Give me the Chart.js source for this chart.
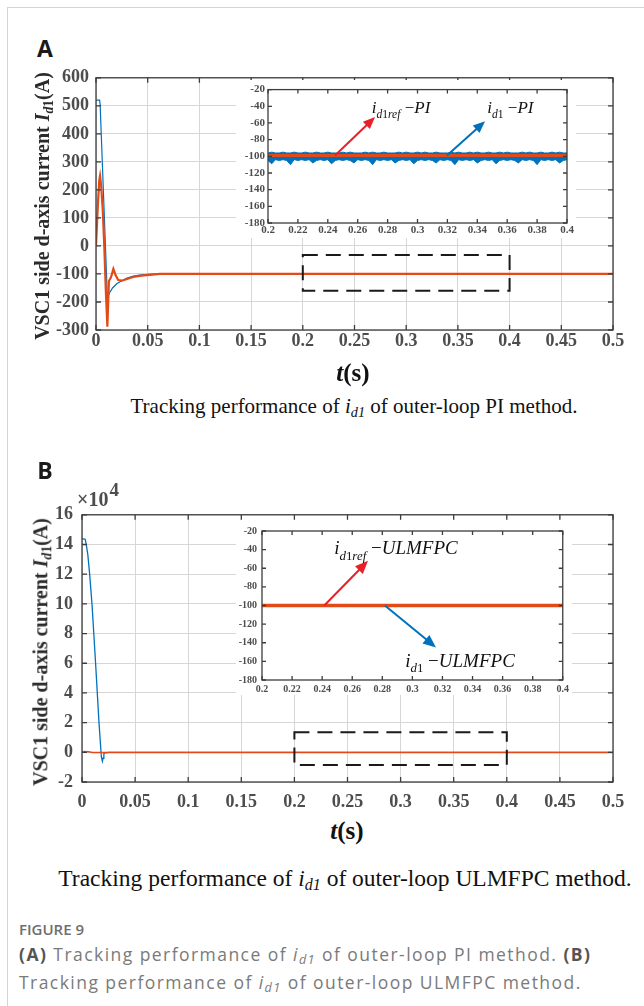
<!DOCTYPE html>
<html>
<head>
<meta charset="utf-8">
<script src="https://cdn.jsdelivr.net/npm/chart.js@4.4.0/dist/chart.umd.min.js"></script>
<style>
  html, body { margin: 0; padding: 0; background: #fff; }
  #page { position: relative; width: 644px; height: 1006px; overflow: hidden; background: #fff; }
  canvas { position: absolute; }
  .t { position: absolute; white-space: nowrap; line-height: 1; transform: translate(-50%, -50%); }
  .serif { font-family: 'Liberation Serif', 'Times New Roman', serif; }
  .panel { font-family: 'Open Sans', sans-serif; font-weight: 700; font-size: 23px; color: #1a1a1a; }
  .ytitle { font-weight: bold; font-size: 20px; color: #2b2b2b; transform: translate(-50%, -50%) rotate(-90deg); }
  .ytitle sub, .cap sub { font-size: 0.68em; vertical-align: -0.28em; }
  .xtitle { font-weight: bold; font-size: 25px; color: #111; }
  .cap { font-size: 21px; color: #111; }
  .fig { position: absolute; left: 19px; font-family: 'Open Sans', sans-serif; color: #7a7a7a; white-space: nowrap; }
  .fig b { color: #555; }
  .fig sub { font-size: 0.72em; vertical-align: -0.25em; }
</style>
</head>
<body>
<div id="page">
  <div style="position:absolute;left:7px;top:7px;width:637px;height:1px;background:#d4d4d4"></div>
  <div style="position:absolute;left:7px;top:7px;width:1px;height:999px;background:#d4d4d4"></div>

  <div class="t panel" style="left:45px;top:48px">A</div>
  <canvas id="mainA" width="640" height="300" style="left:0;top:60px"></canvas>
  <canvas id="zoomA" width="340" height="158" style="left:236px;top:80px"></canvas>
  <div class="t serif ytitle" style="left:44px;top:206px">VSC1 side d-axis current <i>I</i><sub><i>d</i>1</sub>(A)</div>
  <div class="t serif xtitle" style="left:353px;top:372px"><i>t</i>(s)</div>
  <div class="t serif cap" style="left:354px;top:408px">Tracking performance of <i>i<sub>d1</sub></i> of outer-loop PI method.</div>

  <div class="t panel" style="left:45px;top:470px">B</div>
  <canvas id="mainB" width="640" height="320" style="left:0;top:495px"></canvas>
  <canvas id="zoomB" width="336" height="175" style="left:236px;top:520px"></canvas>
  <div class="serif" style="position:absolute;left:77px;top:489px;font-size:20px;font-weight:bold;color:#4d4d4d;line-height:20px;white-space:nowrap">×10<span style="position:relative;top:-10px;font-size:19px;margin-left:1px">4</span></div>
  <div class="t serif ytitle" style="left:42px;top:652px">VSC1 side d-axis current <i>I</i><sub><i>d</i>1</sub>(A)</div>
  <div class="t serif xtitle" style="left:347px;top:830px"><i>t</i>(s)</div>
  <div class="t serif cap" style="left:345px;top:880px;font-size:23.5px">Tracking performance of <i>i<sub>d1</sub></i> of outer-loop ULMFPC method.</div>

  <div class="fig" style="top:919px;font-size:15px;font-weight:600;color:#6e6e6e">FIGURE 9</div>
  <div class="fig" style="top:943px;font-size:17.5px;line-height:22px;letter-spacing:1.45px">
    <b>(A)</b> Tracking performance of <i>i<sub>d1</sub></i> of outer-loop PI method. <b>(B)</b><br>
    Tracking performance of <i>i<sub>d1</sub></i> of outer-loop ULMFPC method.
  </div>
</div>

<script>
// ---- panel A: outer-loop PI, full run ----
const piTime = [0, 0.0035, 0.004, 0.011, 0.013, 0.016, 0.02, 0.025, 0.03, 0.036, 0.042, 0.05, 0.06, 0.5];
const piCurrent = [520, 520, 505, -185, -168, -150, -135, -124, -115, -108, -104, -101, -100, -100];
const piRefTime = [0, 0.002, 0.0032, 0.0039, 0.005, 0.0065, 0.008, 0.0095, 0.011, 0.0125, 0.0145, 0.0168, 0.019, 0.0215, 0.025, 0.03, 0.036, 0.044, 0.052, 0.062, 0.5];
const piRefCurrent = [0, 160, 235, 250, 215, 130, 0, -160, -288, -125, -112, -82, -105, -122, -124, -118, -111, -106, -103, -100, -100];

// ---- panel A inset: 0.2 .. 0.4 s ----
const piZoomTime = [0.2, 0.2025, 0.205, 0.2075, 0.21, 0.2125, 0.215, 0.2175, 0.22, 0.2225,
  0.225, 0.2275, 0.23, 0.2325, 0.235, 0.2375, 0.24, 0.2425, 0.245, 0.2475,
  0.25, 0.2525, 0.255, 0.2575, 0.26, 0.2625, 0.265, 0.2675, 0.27, 0.2725,
  0.275, 0.2775, 0.28, 0.2825, 0.285, 0.2875, 0.29, 0.2925, 0.295, 0.2975,
  0.3, 0.3025, 0.305, 0.3075, 0.31, 0.3125, 0.315, 0.3175, 0.32, 0.3225,
  0.325, 0.3275, 0.33, 0.3325, 0.335, 0.3375, 0.34, 0.3425, 0.345, 0.3475,
  0.35, 0.3525, 0.355, 0.3575, 0.36, 0.3625, 0.365, 0.3675, 0.37, 0.3725,
  0.375, 0.3775, 0.38, 0.3825, 0.385, 0.3875, 0.39, 0.3925, 0.395, 0.3975,
  0.4];
// upper and lower edge of the noisy i_d1 band
const piZoomHigh = [-96, -95, -96, -96, -95, -96, -96, -95, -96, -96,
  -95, -96, -96, -95, -96, -96, -95, -96, -96, -96,
  -95, -96, -95, -96, -96, -96, -95, -96, -95, -96,
  -96, -95, -96, -96, -96, -95, -96, -95, -96, -96,
  -95, -96, -95, -96, -96, -95, -96, -96, -96, -95,
  -96, -95, -96, -96, -95, -96, -95, -96, -96, -95,
  -96, -96, -95, -96, -95, -96, -96, -96, -95, -96,
  -95, -96, -96, -95, -96, -96, -95, -96, -95, -96,
  -96];
const piZoomLow = [-105, -109, -104, -105, -104, -105, -110, -104, -105, -104,
  -105, -104, -108, -105, -104, -105, -104, -109, -105, -104,
  -105, -104, -105, -108, -104, -105, -104, -105, -110, -104,
  -105, -104, -105, -104, -108, -105, -104, -105, -104, -109,
  -105, -104, -105, -104, -105, -108, -104, -105, -104, -105,
  -110, -104, -105, -104, -105, -104, -108, -105, -104, -105,
  -104, -109, -105, -104, -105, -104, -105, -108, -104, -105,
  -104, -105, -110, -104, -105, -104, -105, -104, -108, -105,
  -104];
const piZoomRefTime = [0.2, 0.4];
const piZoomRef = [-99, -99];

// ---- panel B: outer-loop ULMFPC, full run (A) ----
const ulmTime = [0, 0.003, 0.004, 0.0055, 0.0072, 0.0094, 0.0128, 0.016, 0.0182, 0.0192, 0.0198, 0.0206, 0.025, 0.5];
const ulmCurrent = [144000, 143500, 140000, 133000, 120000, 100000, 60000, 20000, -3000, -6000, -4000, -500, -100, -100];
const ulmRefTime = [0, 0.002, 0.006, 0.01, 0.5];
const ulmRefCurrent = [0, 600, 300, -100, -100];

// ---- panel B inset ----
const ulmZoomTime = [0.2, 0.4];
const ulmZoomCurrent = [-100, -100];
const ulmZoomRef = [-100, -100];

const BLUE = '#0072BD';
const ORANGE = '#E24A17';
const SERIF = "'Liberation Serif', 'Times New Roman', serif";

const pts = (xs, ys) => xs.map((x, i) => ({ x: x, y: ys[i] }));
const num = v => String(Number(v.toFixed(3)));

function drawTag(ctx, x, y, size, sub, suffix) {
  const small = size * 0.68;
  const drop = size * 0.28;
  const parts = [
    { s: 'i', f: 'italic ' + size + 'px ' + SERIF, dy: 0 },
    { s: 'd', f: 'italic ' + small + 'px ' + SERIF, dy: drop },
    { s: '1', f: small + 'px ' + SERIF, dy: drop }
  ];
  if (sub) parts.push({ s: sub, f: 'italic ' + small + 'px ' + SERIF, dy: drop });
  parts.push({ s: ' \u2212', f: size + 'px ' + SERIF, dy: 0 });
  parts.push({ s: suffix, f: 'italic ' + size + 'px ' + SERIF, dy: 0 });
  ctx.fillStyle = '#111';
  ctx.textAlign = 'left';
  ctx.textBaseline = 'alphabetic';
  let cx = x;
  parts.forEach(p => {
    ctx.font = p.f;
    ctx.fillText(p.s, cx, y + p.dy);
    cx += ctx.measureText(p.s).width;
  });
}

function drawArrow(ctx, x0, y0, x1, y1, color, head) {
  const ang = Math.atan2(y1 - y0, x1 - x0);
  ctx.strokeStyle = color;
  ctx.fillStyle = color;
  ctx.lineWidth = 2;
  ctx.beginPath();
  ctx.moveTo(x0, y0);
  ctx.lineTo(x1 - Math.cos(ang) * head * 0.8, y1 - Math.sin(ang) * head * 0.8);
  ctx.stroke();
  ctx.beginPath();
  ctx.moveTo(x1, y1);
  ctx.lineTo(x1 - Math.cos(ang) * head + Math.sin(ang) * head * 0.42, y1 - Math.sin(ang) * head - Math.cos(ang) * head * 0.42);
  ctx.lineTo(x1 - Math.cos(ang) * head - Math.sin(ang) * head * 0.42, y1 - Math.sin(ang) * head + Math.cos(ang) * head * 0.42);
  ctx.closePath();
  ctx.fill();
}

// matlab-like box: white fill, dashed zoom window, arrows, frame with inward ticks
const matlabBox = {
  id: 'matlabBox',
  beforeDraw(chart, args, o) {
    if (!o.background) return;
    const ctx = chart.ctx;
    ctx.save();
    ctx.fillStyle = o.background;
    ctx.fillRect(0, 0, chart.width, chart.height);
    ctx.restore();
  },
  afterDatasetsDraw(chart, args, o) {
    const { ctx, chartArea: a, scales } = chart;
    const sx = scales.x, sy = scales.y;
    ctx.save();
    if (o.zoom) {
      const z = o.zoom;
      const x0 = sx.getPixelForValue(z.x0), x1 = sx.getPixelForValue(z.x1);
      const y0 = sy.getPixelForValue(z.y0), y1 = sy.getPixelForValue(z.y1);
      ctx.setLineDash([15, 8]);
      ctx.lineWidth = 2;
      ctx.strokeStyle = '#1a1a1a';
      ctx.strokeRect(x0, y0, x1 - x0, y1 - y0);
      ctx.setLineDash([]);
    }
    (o.arrows || []).forEach(ar => {
      drawArrow(ctx, sx.getPixelForValue(ar.from[0]), sy.getPixelForValue(ar.from[1]),
        sx.getPixelForValue(ar.to[0]), sy.getPixelForValue(ar.to[1]), ar.color, ar.head || 12);
    });
    (o.tags || []).forEach(tg => {
      drawTag(ctx, sx.getPixelForValue(tg.x), sy.getPixelForValue(tg.y), tg.size, tg.sub, tg.suffix);
    });
    const tl = o.tick || 5;
    ctx.strokeStyle = '#3c3c3c';
    ctx.lineWidth = 1.3;
    ctx.beginPath();
    sx.ticks.forEach(t => {
      const p = sx.getPixelForValue(t.value);
      ctx.moveTo(p, a.bottom); ctx.lineTo(p, a.bottom - tl);
      ctx.moveTo(p, a.top); ctx.lineTo(p, a.top + tl);
    });
    sy.ticks.forEach(t => {
      const p = sy.getPixelForValue(t.value);
      ctx.moveTo(a.left, p); ctx.lineTo(a.left + tl, p);
      ctx.moveTo(a.right, p); ctx.lineTo(a.right - tl, p);
    });
    ctx.stroke();
    ctx.strokeRect(a.left, a.top, a.right - a.left, a.bottom - a.top);
    ctx.restore();
  }
};

function axes(cfg) {
  const tickFont = { family: SERIF, size: cfg.font, weight: 'bold' };
  return {
    x: {
      type: 'linear', min: cfg.xmin, max: cfg.xmax,
      afterFit: s => { s.height = cfg.xh; },
      grid: { display: cfg.grid, color: '#d6d6d6', drawTicks: false },
      border: { display: false },
      ticks: { stepSize: cfg.xstep, autoSkip: false, maxRotation: 0, padding: cfg.xpad, color: '#4d4d4d', font: tickFont, callback: v => num(v) }
    },
    y: {
      min: cfg.ymin, max: cfg.ymax,
      afterFit: s => { s.width = cfg.yw; },
      grid: { display: cfg.grid, color: '#d6d6d6', drawTicks: false },
      border: { display: false },
      ticks: { stepSize: cfg.ystep, autoSkip: false, padding: cfg.ypad, color: '#4d4d4d', font: tickFont, callback: cfg.ylab || (v => num(v)) }
    }
  };
}

// lower "order" is painted on top, so reference curves get order 0
function line(data, color, width, order, extra) {
  return Object.assign({ data: data, borderColor: color, borderWidth: width, pointRadius: 0, fill: false, tension: 0, order: order }, extra || {});
}

function build(id, datasets, scaleCfg, padding, box) {
  return new Chart(document.getElementById(id), {
    type: 'line',
    data: { datasets: datasets },
    options: {
      responsive: false,
      animation: false,
      devicePixelRatio: 1,
      layout: { padding: padding },
      scales: axes(scaleCfg),
      plugins: { legend: { display: false }, tooltip: { enabled: false }, matlabBox: box }
    },
    plugins: [matlabBox]
  });
}

build('mainA', [
  line(pts(piTime, piCurrent), BLUE, 1.2, 1),
  line(pts(piRefTime, piRefCurrent), ORANGE, 2.2, 0)
], { xmin: 0, xmax: 0.5, xstep: 0.05, ymin: -300, ymax: 600, ystep: 100, font: 18, xh: 22, yw: 96, xpad: 1, ypad: 7, grid: true },
{ left: 0, top: 12, right: 27, bottom: 8 },
{ tick: 5, zoom: { x0: 0.2, x1: 0.4, y0: -32, y1: -160 } });

build('zoomA', [
  line(pts(piZoomTime, piZoomHigh), BLUE, 1, 2),
  line(pts(piZoomTime, piZoomLow), BLUE, 1, 1, { fill: '-1', backgroundColor: BLUE }),
  line(pts(piZoomRefTime, piZoomRef), ORANGE, 3, 0)
], { xmin: 0.2, xmax: 0.4, xstep: 0.02, ymin: -180, ymax: -20, ystep: 20, font: 11, xh: 13, yw: 32, xpad: 1, ypad: 3, grid: false },
{ left: 0, top: 7, right: 9, bottom: 2 },
{ tick: 4, background: '#fff',
  arrows: [
    { from: [0.2448, -99], to: [0.2716, -53], color: '#E8202A', head: 12 },
    { from: [0.3197, -99], to: [0.3452, -58], color: BLUE, head: 12 }
  ],
  tags: [
    { x: 0.2694, y: -48, size: 17, sub: 'ref', suffix: 'PI' },
    { x: 0.3467, y: -48, size: 17, sub: '', suffix: 'PI' }
  ] });

build('mainB', [
  line(pts(ulmTime, ulmCurrent), BLUE, 1.3, 1),
  line(pts(ulmRefTime, ulmRefCurrent), ORANGE, 1.5, 0)
], { xmin: 0, xmax: 0.5, xstep: 0.05, ymin: -20000, ymax: 160000, ystep: 20000, font: 18, xh: 30, yw: 82, xpad: 10, ypad: 9, grid: true,
     ylab: v => String(v / 10000) },
{ left: 0, top: 14, right: 27, bottom: 3 },
{ tick: 5, zoom: { x0: 0.2, x1: 0.4, y0: 13500, y1: -8500 } });

build('zoomB', [
  line(pts(ulmZoomTime, ulmZoomCurrent), BLUE, 3, 1),
  line(pts(ulmZoomTime, ulmZoomRef), ORANGE, 3.5, 0)
], { xmin: 0.2, xmax: 0.4, xstep: 0.02, ymin: -180, ymax: -20, ystep: 20, font: 10, xh: 12, yw: 26, xpad: 3, ypad: 5, grid: false },
{ left: 0, top: 6, right: 8, bottom: 3 },
{ tick: 4, background: '#fff',
  arrows: [
    { from: [0.2414, -100], to: [0.2705, -52], color: '#E8202A', head: 13 },
    { from: [0.2817, -100], to: [0.3157, -145], color: BLUE, head: 13 }
  ],
  tags: [
    { x: 0.248, y: -45, size: 19, sub: 'ref', suffix: 'ULMFPC' },
    { x: 0.2952, y: -166, size: 19, sub: '', suffix: 'ULMFPC' }
  ] });
</script>
</body>
</html>
